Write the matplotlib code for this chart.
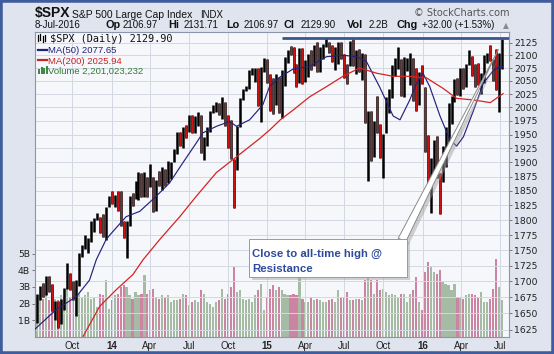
import matplotlib
matplotlib.use("Agg")
import matplotlib.pyplot as plt
import matplotlib.dates as mdates
from matplotlib.lines import Line2D
from matplotlib.patches import Rectangle
from matplotlib.ticker import FixedLocator, NullLocator, FixedFormatter
import numpy as np
import pandas as pd

# ---------------- data (weekly bars) ----------------
week_end = pd.date_range("2013-07-12", periods=157, freq="W-FRI")

wk_high = [
    1680, 1693, 1698, 1709, 1709, 1696, 1669, 1669, 1672, 1690, 1730, 1714, 1700,
    1703, 1745, 1759, 1775, 1771, 1798, 1804, 1813, 1806, 1811, 1823, 1842,
    # 2014
    1849, 1843, 1850, 1849, 1798, 1798, 1841, 1847, 1867, 1883, 1882, 1883, 1875,
    1897, 1874, 1869, 1884, 1891, 1889, 1902, 1901, 1924, 1955, 1955, 1964, 1968,
    1985, 1985, 1984, 1991, 1985, 1945, 1964, 1994, 2005, 2011, 2008, 2019, 2010,
    1986, 1977, 1906, 1965, 2018, 2034, 2041, 2071, 2075, 2076, 2075, 2077, 2094,
    # 2015
    2093, 2064, 2056, 2064, 2058, 2072, 2097, 2111, 2119, 2117, 2083, 2114, 2114,
    2090, 2103, 2111, 2120, 2126, 2117, 2123, 2135, 2127, 2121, 2116, 2127, 2126,
    2102, 2083, 2129, 2133, 2111, 2113, 2105, 2103, 1993, 1993, 1975, 2021, 1969,
    1951, 2020, 2034, 2080, 2094, 2116, 2093, 2097, 2095, 2104, 2094, 2076, 2067, 2081,
    # 2016
    2038, 1950, 1908, 1940, 1947, 1881, 1930, 1963, 2009, 2022, 2053, 2056, 2075,
    2075, 2083, 2111, 2099, 2083, 2084, 2065, 2100, 2104, 2120, 2092, 2113, 2105, 2132,
]
wk_low = [
    1635, 1670, 1676, 1679, 1684, 1654, 1640, 1627, 1633, 1655, 1688, 1687, 1670,
    1646, 1692, 1740, 1752, 1746, 1764, 1780, 1800, 1779, 1772, 1767, 1823,
    # 2014
    1827, 1823, 1815, 1790, 1770, 1738, 1791, 1824, 1836, 1834, 1839, 1839, 1840,
    1857, 1814, 1815, 1859, 1851, 1859, 1863, 1871, 1900, 1915, 1930, 1925, 1944,
    1955, 1952, 1952, 1966, 1916, 1905, 1929, 1955, 1990, 1992, 1985, 1978, 1965,
    1926, 1906, 1821, 1886, 1964, 2014, 2030, 2034, 2062, 2049, 2002, 1973, 2067,
    # 2015
    2046, 1993, 1988, 2004, 1989, 1981, 2041, 2085, 2101, 2066, 2039, 2046, 2045,
    2048, 2057, 2072, 2078, 2067, 2068, 2092, 2117, 2104, 2086, 2072, 2082, 2093,
    2056, 2044, 2078, 2079, 2063, 2067, 2052, 1971, 1867, 1903, 1910, 1953, 1908,
    1872, 1953, 1990, 2017, 2059, 2074, 2022, 2019, 2070, 2042, 2012, 1993, 2005, 2044,
    # 2016
    1918, 1857, 1812, 1872, 1872, 1810, 1865, 1891, 1937, 1969, 2010, 2023, 2022,
    2034, 2039, 2081, 2060, 2039, 2043, 2025, 2046, 2085, 2089, 2050, 2033, 1992, 2074,
]
wk_close = [
    1680, 1692, 1691, 1709, 1691, 1655, 1663, 1633, 1655, 1688, 1710, 1692, 1690,
    1703, 1745, 1759, 1762, 1771, 1798, 1804, 1806, 1805, 1775, 1818, 1841,
    # 2014
    1831, 1842, 1839, 1790, 1783, 1797, 1838, 1836, 1859, 1878, 1841, 1866, 1857,
    1865, 1815, 1864, 1863, 1881, 1878, 1878, 1900, 1924, 1950, 1937, 1963, 1961,
    1985, 1968, 1978, 1978, 1925, 1931, 1955, 1988, 2003, 2008, 1985, 2010, 1983,
    1967, 1906, 1887, 1964, 2018, 2032, 2039, 2064, 2068, 2075, 2003, 2071, 2089,
    # 2015
    2058, 2045, 2019, 2051, 1995, 2055, 2097, 2110, 2105, 2071, 2053, 2108, 2061,
    2067, 2102, 2081, 2117, 2108, 2116, 2123, 2126, 2107, 2092, 2094, 2110, 2102,
    2077, 2076, 2127, 2080, 2104, 2078, 2092, 1971, 1989, 1921, 1961, 1958, 1931,
    1951, 2015, 2033, 2075, 2079, 2099, 2023, 2089, 2090, 2092, 2012, 2006, 2061, 2044,
    # 2016
    1922, 1880, 1907, 1940, 1880, 1865, 1917, 1948, 2000, 2022, 2050, 2035, 2073,
    2048, 2081, 2092, 2065, 2057, 2047, 2052, 2099, 2099, 2096, 2071, 2037, 2103, 2130,
]
wk_volume_b = [
    2.4, 2.5, 2.3, 2.6, 2.2, 2.6, 2.3, 2.2, 2.5, 2.4, 3.0, 2.4, 2.6,
    2.9, 2.6, 2.4, 2.5, 2.7, 2.3, 2.4, 1.8, 2.6, 2.5, 3.4, 1.7,
    # 2014
    2.2, 2.5, 2.6, 3.0, 3.1, 3.0, 2.5, 2.3, 2.7, 2.5, 2.6, 3.7, 2.6,
    2.8, 2.9, 2.4, 2.3, 2.5, 2.4, 2.5, 2.1, 2.2, 2.2, 2.3, 2.6, 2.5,
    1.9, 2.1, 2.2, 2.1, 2.8, 2.6, 2.1, 2.0, 1.8, 2.1, 2.2, 2.9, 2.3,
    2.6, 3.0, 4.2, 2.7, 2.8, 2.3, 2.2, 2.3, 2.1, 2.5, 2.8, 3.2, 1.6,
    # 2015
    2.4, 2.9, 3.1, 2.8, 3.0, 2.8, 2.6, 2.5, 2.5, 2.6, 2.5, 3.9, 2.3,
    2.1, 2.1, 2.4, 2.2, 2.3, 2.2, 2.1, 2.1, 2.2, 2.3, 2.1, 2.8, 2.4,
    2.4, 2.7, 2.2, 2.2, 2.3, 2.3, 2.2, 3.4, 5.8, 3.4, 2.6, 3.4, 2.8,
    2.9, 2.7, 2.5, 2.6, 2.5, 2.4, 2.6, 2.6, 2.1, 2.6, 2.8, 3.6, 2.1, 1.6,
    # 2016
    3.9, 4.5, 4.2, 3.9, 3.8, 4.0, 3.3, 3.2, 3.1, 2.8, 3.2, 2.4, 2.4,
    2.3, 2.5, 2.6, 2.6, 2.5, 2.4, 2.7, 2.1, 2.1, 2.3, 2.9, 4.7, 3.0, 2.2,
]

ma50_dates = [
    "2013-07-05", "2013-08-24", "2013-10-10", "2013-11-10", "2013-11-26", "2013-12-19",
    "2013-12-31", "2014-02-04", "2014-03-08", "2014-04-16", "2014-05-17", "2014-06-17",
    "2014-07-19", "2014-08-03", "2014-09-04", "2014-10-05", "2014-10-21", "2014-11-21",
    "2014-12-22", "2015-01-07", "2015-02-01", "2015-03-03", "2015-04-11", "2015-05-20",
    "2015-06-28", "2015-07-30", "2015-08-22", "2015-09-22", "2015-10-24", "2015-11-09",
    "2015-12-02", "2015-12-18", "2016-01-02", "2016-01-18", "2016-02-11", "2016-03-05",
    "2016-03-21", "2016-04-06", "2016-04-30", "2016-05-23", "2016-06-16", "2016-07-01",
    "2016-07-08",
]
ma50_vals = [
    1626, 1656, 1676, 1702, 1735, 1768,
    1778, 1806, 1815, 1841, 1864, 1899,
    1935, 1953, 1965, 1974, 1965, 1977,
    2005, 2040, 2058, 2073, 2078, 2097,
    2100, 2097, 2088, 2039, 1984, 1977,
    2014, 2046, 2065, 2039, 1984, 1941,
    1929, 1946, 1995, 2046, 2071, 2078,
    2077.65,
]
ma200_dates = [
    "2013-10-26", "2013-12-04", "2014-01-12", "2014-02-20", "2014-03-16", "2014-04-24",
    "2014-06-10", "2014-07-19", "2014-09-04", "2014-10-13", "2014-11-22", "2014-12-15",
    "2015-01-08", "2015-02-01", "2015-03-03", "2015-04-11", "2015-05-20", "2015-06-28",
    "2015-08-06", "2015-09-15", "2015-10-24", "2015-12-02", "2016-01-10", "2016-02-18",
    "2016-03-21", "2016-04-30", "2016-06-08", "2016-07-08",
]
ma200_vals = [
    1615, 1661, 1687, 1711, 1735, 1768,
    1806, 1841, 1882, 1905, 1929, 1943,
    1959, 1977, 1995, 2020, 2039, 2059,
    2075, 2065, 2059, 2059, 2056, 2036,
    2017, 2014, 2009, 2025.94,
]

price_ticks = list(range(1625, 2126, 25))
vol_ticks = [1, 2, 3, 4, 5]
vol_tick_labels = ["1B", "2B", "3B", "4B", "5B"]
x_tick_dates = ["2013-10-01", "2014-01-01", "2014-04-01", "2014-07-01", "2014-10-01",
                "2015-01-01", "2015-04-01", "2015-07-01", "2015-10-01", "2016-01-01",
                "2016-04-01", "2016-07-01"]
x_tick_labels = ["Oct", "14", "Apr", "Jul", "Oct", "15", "Apr", "Jul", "Oct", "16", "Apr", "Jul"]
resistance_level = 2134.72
resistance_start = "2015-02-06"

# ---------------- layout helpers ----------------
W, H = 554, 354
def fx(px):
    return px / W
def fy(py):
    return 1 - py / H

fig = plt.figure(figsize=(W / 100, H / 100), dpi=100)
fig.patch.set_facecolor("#dfe4ee")
fig.patches.append(Rectangle((0, 0), 1, 1, transform=fig.transFigure, fill=False,
                             ec="#3f5c9c", lw=4.0, zorder=100))

rect = [fx(35), fy(337), (509 - 35) / W, (337 - 32) / H]
x0 = mdates.date2num(pd.Timestamp("2013-07-05"))
x1 = mdates.date2num(pd.Timestamp("2016-07-22"))

mid = mdates.date2num(week_end - pd.Timedelta(days=2))
close = np.array(wk_close, dtype=float)
prev = np.concatenate([[close[0] - 1], close[:-1]])
up = close >= prev

# ---- volume axes (underneath) ----
ax_v = fig.add_axes(rect)
ax_v.set_facecolor("#f6f7fb")
vol_colors = np.where(up, "#9db59b", "#c9789a")
ax_v.bar(mid, wk_volume_b, width=5.0, color=vol_colors, linewidth=0, alpha=0.9, zorder=2)
ax_v.set_xlim(x0, x1)
ax_v.set_ylim(0, 18.3)
ax_v.yaxis.set_major_locator(FixedLocator(vol_ticks))
ax_v.yaxis.set_major_formatter(FixedFormatter(vol_tick_labels))
ax_v.yaxis.set_minor_locator(NullLocator())
ax_v.tick_params(axis="y", left=True, labelleft=True, length=2.5, width=0.6,
                 color="#666666", labelsize=6.7, labelcolor="#222222", pad=1)
ax_v.tick_params(axis="x", bottom=False, labelbottom=False)
for t in ax_v.get_yticklabels():
    t.set_fontfamily("DejaVu Sans")
for s in ax_v.spines.values():
    s.set_visible(False)

# ---- price axes (on top) ----
ax_p = fig.add_axes(rect)
ax_p.set_facecolor("none")
ax_p.set_yscale("log")
ax_p.set_xlim(x0, x1)
ax_p.set_ylim(1614, 2146)
ax_p.yaxis.set_major_locator(FixedLocator(price_ticks))
ax_p.yaxis.set_major_formatter(FixedFormatter([str(v) for v in price_ticks]))
ax_p.yaxis.set_minor_locator(NullLocator())
ax_p.yaxis.set_minor_formatter(FixedFormatter([]))
ax_p.yaxis.tick_right()
ax_p.tick_params(axis="y", right=True, left=False, labelright=True, labelleft=False,
                 length=2.5, width=0.6, color="#666666", labelsize=6.7,
                 labelcolor="#222222", pad=1)
xt = [mdates.date2num(pd.Timestamp(d)) for d in x_tick_dates]
ax_p.xaxis.set_major_locator(FixedLocator(xt))
ax_p.xaxis.set_major_formatter(FixedFormatter(x_tick_labels))
ax_p.xaxis.set_minor_locator(NullLocator())
ax_p.tick_params(axis="x", length=0, labelsize=7, labelcolor="#222222", pad=3)
for t in ax_p.get_yticklabels():
    t.set_fontfamily("DejaVu Sans")
for t in ax_p.get_xticklabels():
    t.set_fontfamily("Liberation Sans")
    if t.get_text().isdigit():
        t.set_fontweight("bold")
ax_p.grid(True, which="major", color="#d3d8e2", lw=0.7)
ax_p.set_axisbelow(True)
for s in ax_p.spines.values():
    s.set_color("#8c96aa")
    s.set_linewidth(0.8)

# all bars in black, down weeks overlaid in red (black/red mix as in daily bars)
lows = np.array(wk_low, dtype=float)
highs = np.array(wk_high, dtype=float)
ax_p.vlines(mid, lows, highs, colors="#000000", lw=1.8, zorder=3)
ax_p.vlines(mid[~up], lows[~up], highs[~up], colors="#cc1111", lw=0.9, zorder=3.5)

ax_p.plot(mdates.date2num(pd.to_datetime(ma50_dates)), ma50_vals,
          color="#22227a", lw=0.85, zorder=4)
ax_p.plot(mdates.date2num(pd.to_datetime(ma200_dates)), ma200_vals,
          color="#d42424", lw=0.9, zorder=4)
ax_p.hlines(resistance_level, mdates.date2num(pd.Timestamp(resistance_start)), x1,
            color="#3a5590", lw=2.0, zorder=5)

# ---- callout ----
fig.canvas.draw()
apex_disp = ax_p.transData.transform((mdates.date2num(pd.Timestamp("2016-06-27")), 2111))
apex_fig = fig.transFigure.inverted().transform(apex_disp)
shadow_off = (3 / W, -3 / H)
ax_p.annotate("", xy=(apex_fig[0] + shadow_off[0], apex_fig[1] + shadow_off[1]),
              xycoords="figure fraction",
              xytext=(fx(405), fy(243)), textcoords="figure fraction",
              arrowprops=dict(arrowstyle="wedge,tail_width=0.6,shrink_factor=0.5",
                              fc="#9a9a9a", ec="none", alpha=0.45,
                              shrinkA=0, shrinkB=0), zorder=6)
ax_p.annotate("", xy=tuple(apex_fig), xycoords="figure fraction",
              xytext=(fx(402), fy(240)), textcoords="figure fraction",
              arrowprops=dict(arrowstyle="wedge,tail_width=0.6,shrink_factor=0.5",
                              fc="white", ec="#8a8a8a", lw=0.7,
                              shrinkA=0, shrinkB=0), zorder=7)
fig.patches.append(Rectangle((fx(252), fy(280)), (407 - 249) / W, (277 - 239) / H,
                             transform=fig.transFigure, fc="#a0a0a0", ec="none",
                             alpha=0.45, zorder=8))
fig.patches.append(Rectangle((fx(249), fy(277)), (407 - 249) / W, (277 - 239) / H,
                             transform=fig.transFigure, fc="white", ec="#9a9a9a",
                             lw=0.7, zorder=9))
fig.text(fx(252), fy(256.5), "Close to all-time high @", fontsize=8.2,
         fontweight="bold", color="#2f4a9c", family="Liberation Sans", zorder=10)
fig.text(fx(252), fy(271.5), "Resistance", fontsize=8.2,
         fontweight="bold", color="#2f4a9c", family="Liberation Sans", zorder=10)

# ---- header ----
hdr = dict(family="Liberation Sans", color="#111111")
fig.text(fx(35), fy(17.5), "$SPX", fontsize=10, fontweight="bold", **hdr)
fig.text(fx(72), fy(17.5), "S&P 500 Large Cap Index", fontsize=7.5, **hdr)
fig.text(fx(200), fy(17.5), "INDX", fontsize=6.9, **hdr)
fig.text(fx(509), fy(16.5), "\u00a9 StockCharts.com", fontsize=7.0, ha="right",
         family="DejaVu Sans", color="#555555")
line2 = [
    (35, "8-Jul-2016", False), (105, "Op", True), (123, "2106.97", False),
    (168, "Hi", True), (184, "2131.71", False), (226, "Lo", True),
    (244, "2106.97", False), (284, "Cl", True), (300.5, "2129.90", False),
    (347, "Vol", True), (369, "2.2B", False), (396, "Chg", True),
    (421.5, "+32.00 (+1.53%)", False),
]
for px, s, b in line2:
    fig.text(fx(px), fy(28.5), s, fontsize=7.8 if b else 7.0,
             fontweight="bold" if b else "normal", **hdr)
fig.text(fx(505.5), fy(28), "\u25b2", fontsize=5.5, ha="center", color="#8a8a8a",
         family="DejaVu Sans")

# ---- legend ----
for dx, (lo, hi) in zip([37.5, 40, 42.5, 45], [(35, 41), (34, 40), (36, 42), (35, 41)]):
    fig.add_artist(Line2D([fx(dx), fx(dx)], [fy(hi), fy(lo)], color="black", lw=0.9,
                          transform=fig.transFigure))
fig.text(fx(50), fy(41.7), "$SPX (Daily) 2129.90", fontsize=7.4,
         family="DejaVu Sans Mono", color="#111111")
fig.add_artist(Line2D([fx(38), fx(47)], [fy(49.5), fy(49.5)], color="#22227a", lw=1.6,
                      transform=fig.transFigure))
fig.text(fx(48.5), fy(53.3), "MA(50) 2077.65", fontsize=6.8, family="Liberation Sans",
         color="#22227a")
fig.add_artist(Line2D([fx(38), fx(47)], [fy(60), fy(60)], color="#cc2222", lw=1.6,
                      transform=fig.transFigure))
fig.text(fx(48.5), fy(63.5), "MA(200) 2025.94", fontsize=6.8, family="Liberation Sans",
         color="#cc2222")
for dx, top in zip([39, 41.5, 44, 46.5], [69, 67, 68, 66]):
    fig.add_artist(Line2D([fx(dx), fx(dx)], [fy(73.5), fy(top)], color="#2e7d32", lw=1.3,
                          transform=fig.transFigure, solid_capstyle="butt"))
fig.text(fx(48.5), fy(73.5), "Volume 2,201,023,232", fontsize=6.8,
         family="Liberation Sans", color="#2e7d32")

fig.savefig("out.png", dpi=100, facecolor=fig.get_facecolor())
